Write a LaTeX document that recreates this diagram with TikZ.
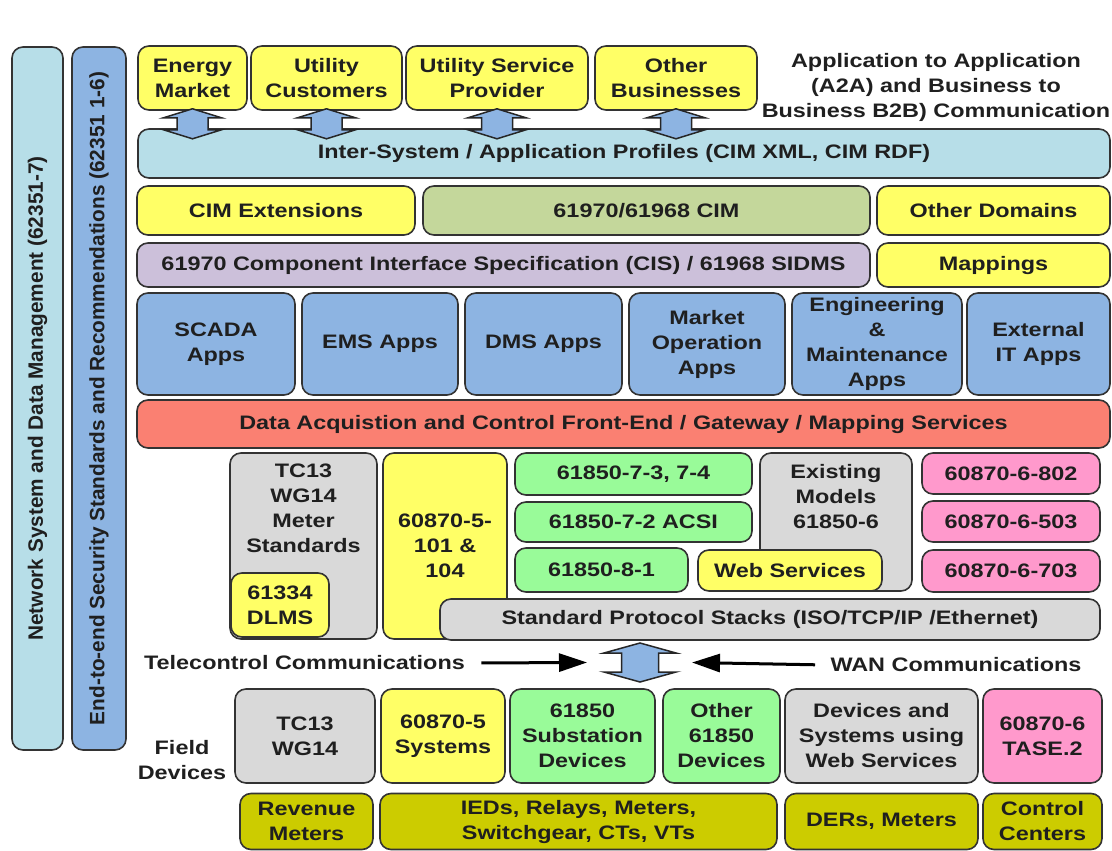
\documentclass[tikz,border=0pt]{standalone}
\usepackage{fontspec}
\setmainfont{Liberation Sans}[FakeStretch=1.2]
\newfontfamily\barfont{Liberation Sans}
\usetikzlibrary{arrows.meta, calc, positioning}
\definecolor{nsblue}{HTML}{B7DEE8}
\definecolor{appblue}{HTML}{8DB4E2}
\definecolor{boxyellow}{HTML}{FFFF66}
\definecolor{cimgreen}{HTML}{C4D79B}
\definecolor{cislav}{HTML}{CCC0DA}
\definecolor{daqred}{HTML}{FA8072}
\definecolor{boxgray}{HTML}{D9D9D9}
\definecolor{iecgreen}{HTML}{99FB99}
\definecolor{iecpink}{HTML}{FF99CC}
\definecolor{fieldolive}{HTML}{CCCC00}

% fat double arrow: centre, half length, half shaft, half head, head length
\newcommand{\fatarrow}[5]{%
  \draw[fatarr] let \p0=#1 in
    (\x0,\y0+#2) -- (\x0+#4,\y0+#2-#5) -- (\x0+#3,\y0+#2-#5) -- (\x0+#3,\y0-#2+#5)
    -- (\x0+#4,\y0-#2+#5) -- (\x0,\y0-#2) -- (\x0-#4,\y0-#2+#5) -- (\x0-#3,\y0-#2+#5)
    -- (\x0-#3,\y0+#2-#5) -- (\x0-#4,\y0+#2-#5) -- cycle;}

\begin{document}
\begin{tikzpicture}[x=1pt, y=-1pt,
    box/.style={draw=black!80, line width=1.6pt, rounded corners=11pt, align=center, text=black!88, inner sep=2pt, font=\fontsize{19.5}{25}\selectfont\bfseries},
    lbl/.style={align=center, text=black!88, font=\fontsize{19.5}{25}\selectfont\bfseries},
    fatarr/.style={draw=black!85, line width=1.5pt, fill=appblue, line join=miter},
    commarrow/.style={-{Triangle[length=28pt, width=18pt]}, line width=3pt, draw=black}
  ]
\useasboundingbox (0,0) rectangle (1112,851);

% side bars
\node[box, fill=nsblue, rotate=90, minimum width=703pt, minimum height=51pt, font=\barfont\fontsize{20.8}{25}\selectfont\bfseries] (nsdm) at (37.5,398.5) {Network System and Data Management (62351-7)};
\node[box, fill=appblue, rotate=90, minimum width=703pt, minimum height=54pt, font=\barfont\fontsize{20.8}{25}\selectfont\bfseries] (e2e) at (99,398.5) {End-to-end Security Standards and Recommendations (62351 1-6)};

% business parties
\node[box, fill=boxyellow, minimum width=109pt, minimum height=64pt] (em) at (192.5,78) {Energy\\Market};
\node[box, fill=boxyellow, minimum width=151pt, minimum height=64pt] (uc) at (326.5,78) {Utility\\Customers};
\node[box, fill=boxyellow, minimum width=182pt, minimum height=64pt] (usp) at (497,78) {Utility Service\\Provider};
\node[box, fill=boxyellow, minimum width=162pt, minimum height=64pt] (ob) at (676,78) {Other\\Businesses};
\node[lbl] (a2a) at (936,87) {Application to Application\\(A2A) and Business to\\Business B2B) Communication};

\node[box, fill=nsblue, minimum width=972pt, minimum height=49pt] (isys) at (624,153.5) {Inter-System / Application Profiles (CIM XML, CIM RDF)};

\fatarrow{([yshift=-13pt]em.south)}{15pt}{15.5pt}{29pt}{9pt}
\fatarrow{([yshift=-13pt]uc.south)}{15pt}{15.5pt}{29pt}{9pt}
\fatarrow{([yshift=-13pt]usp.south)}{15pt}{15.5pt}{29pt}{9pt}
\fatarrow{([yshift=-13pt]ob.south)}{15pt}{15.5pt}{29pt}{9pt}

% CIM layers
\node[box, fill=boxyellow, minimum width=278pt, minimum height=49pt] (cimext) at (276,210.5) {CIM Extensions};
\node[box, fill=cimgreen, minimum width=447pt, minimum height=49pt] (cim) at (646.5,210.5) {61970/61968 CIM};
\node[box, fill=boxyellow, minimum width=233pt, minimum height=49pt] (othdom) at (993.5,210.5) {Other Domains};
\node[box, fill=cislav, minimum width=733pt, minimum height=44pt] (cis) at (503.5,265) {61970 Component Interface Specification (CIS) / 61968 SIDMS};
\node[box, fill=boxyellow, minimum width=233pt, minimum height=44pt] (mapp) at (993.5,265) {Mappings};

% applications
\node[box, fill=appblue, minimum width=158pt, minimum height=102pt] (scada) at (216,344) {SCADA\\Apps};
\node[box, fill=appblue, minimum width=156pt, minimum height=102pt] (ems) at (380,344) {EMS Apps};
\node[box, fill=appblue, minimum width=157pt, minimum height=102pt] (dms) at (543.5,344) {DMS Apps};
\node[box, fill=appblue, minimum width=156pt, minimum height=102pt] (mkt) at (707,344) {Market\\Operation\\Apps};
\node[box, fill=appblue, minimum width=170pt, minimum height=102pt] (eng) at (877,344) {Engineering\\\&\\Maintenance\\Apps};
\node[box, fill=appblue, minimum width=143pt, minimum height=102pt] (ext) at (1038.5,344) {External\\IT Apps};

\node[box, fill=daqred, minimum width=973pt, minimum height=48pt] (daq) at (623.5,424) {Data Acquistion and Control Front-End / Gateway / Mapping Services};

% protocol standards
\node[box, fill=boxgray, minimum width=147pt, minimum height=186pt] (tc13m) at (303.5,546) {};
\node[lbl, anchor=north] (tc13mtxt) at ([yshift=-8pt]tc13m.north) {TC13\\WG14\\Meter\\Standards};
\node[box, fill=boxyellow, minimum width=98pt, minimum height=64pt] (dlms) at (280,605) {61334\\DLMS};
\node[box, fill=boxyellow, minimum width=124pt, minimum height=186pt] (iec101) at (445,546) {60870-5-\\101 \&\\104};
\node[box, fill=iecgreen, minimum width=237pt, minimum height=42pt] (g734) at (633.5,474) {61850-7-3, 7-4};
\node[box, fill=iecgreen, minimum width=237pt, minimum height=40pt] (acsi) at (633.5,522) {61850-7-2 ACSI};
\node[box, fill=iecgreen, minimum width=173pt, minimum height=44pt] (g81) at (601.5,570) {61850-8-1};
\node[box, fill=boxgray, minimum width=152pt, minimum height=138pt] (exist) at (836,522) {};
\node[lbl, anchor=north] (existtxt) at ([yshift=-9pt]exist.north) {Existing\\Models\\61850-6};
\node[box, fill=boxyellow, minimum width=184pt, minimum height=41pt] (websvc) at (790,570.5) {Web Services};
\node[box, fill=iecpink, minimum width=178pt, minimum height=41pt] (p802) at (1011,473.5) {60870-6-802};
\node[box, fill=iecpink, minimum width=178pt, minimum height=41pt] (p503) at (1011,521.5) {60870-6-503};
\node[box, fill=iecpink, minimum width=178pt, minimum height=42pt] (p703) at (1011,571) {60870-6-703};
\node[box, fill=boxgray, minimum width=660pt, minimum height=41pt] (stacks) at (770,619.5) {Standard Protocol Stacks (ISO/TCP/IP /Ethernet)};

% communications
\coordinate (hub) at (640,662.5);
\fatarrow{(hub)}{19.5pt}{18.5pt}{36pt}{10pt}
\node[lbl] (telecom) at (304.5,663) {Telecontrol Communications};
\node[lbl] (wan) at (956,665) {WAN Communications};
\draw[commarrow, shorten <=13pt] (telecom.east) -- ([xshift=-53pt]hub);
\draw[commarrow, shorten <=12pt] (wan.west) -- ([xshift=52pt]hub);

% field devices
\node[lbl] (fdev) at (182,760) {Field\\Devices};
\node[box, fill=boxgray, minimum width=140pt, minimum height=94pt] (ftc) at (305,736) {TC13\\WG14};
\node[box, fill=boxyellow, minimum width=124pt, minimum height=94pt] (f605) at (443,736) {60870-5\\Systems};
\node[box, fill=iecgreen, minimum width=145pt, minimum height=94pt] (fsub) at (582.5,736) {61850\\Substation\\Devices};
\node[box, fill=iecgreen, minimum width=117pt, minimum height=94pt] (foth) at (721.5,736) {Other\\61850\\Devices};
\node[box, fill=boxgray, minimum width=193pt, minimum height=94pt] (fweb) at (881.5,736) {Devices and\\Systems using\\Web Services};
\node[box, fill=iecpink, minimum width=119pt, minimum height=94pt] (ftase) at (1042.5,736) {60870-6\\TASE.2};

\node[box, fill=fieldolive, minimum width=133pt, minimum height=56pt] (rev) at (306.5,821.5) {Revenue\\Meters};
\node[box, fill=fieldolive, minimum width=397pt, minimum height=56pt] (ieds) at (578.5,821.5) {IEDs, Relays, Meters,\\Switchgear, CTs, VTs};
\node[box, fill=fieldolive, minimum width=193pt, minimum height=56pt] (ders) at (881.5,821.5) {DERs, Meters};
\node[box, fill=fieldolive, minimum width=119pt, minimum height=56pt] (ctrl) at (1042.5,821.5) {Control\\Centers};

\end{tikzpicture}
\end{document}
